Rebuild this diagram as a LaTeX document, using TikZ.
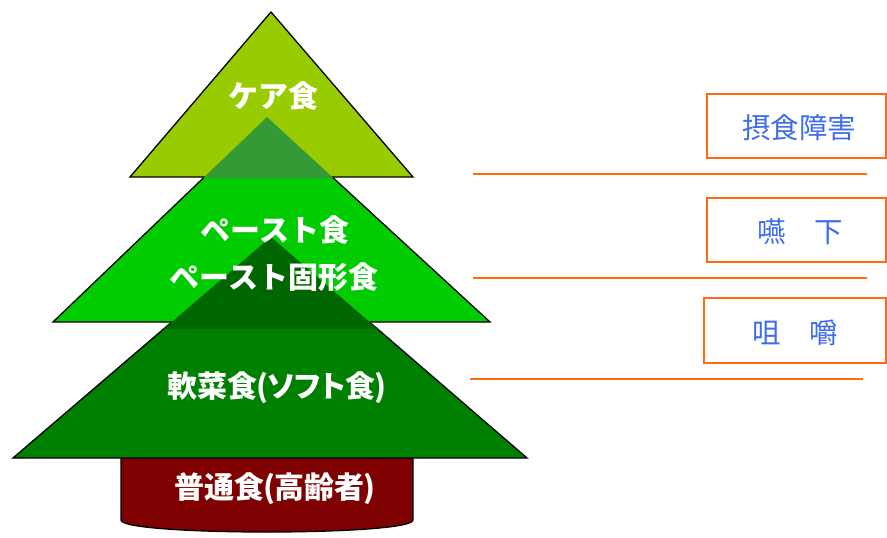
\documentclass[tikz,border=0pt]{standalone}
\usepackage{fontspec}
\newfontfamily\jp{Noto Sans CJK JP}
\newfontfamily\jpp{Noto Sans CJK JP}[RawFeature=+palt]
\definecolor{topg}{HTML}{99CC00}
\definecolor{ov1}{HTML}{359A35}
\definecolor{midg}{HTML}{00CC00}
\definecolor{ov2}{HTML}{006600}
\definecolor{botg}{HTML}{008000}
\definecolor{cyl}{HTML}{7F0000}
\definecolor{orng}{HTML}{FF6A13}
\definecolor{blu}{HTML}{3D6BF0}
\tikzset{
  outl/.style={draw=black, line width=1.3pt, line join=miter},
  wtext/.style={text=white, font=\jp\bfseries\fontsize{30}{32}\selectfont, inner sep=0pt},
  wtextp/.style={text=white, font=\jpp\bfseries\fontsize{30}{32}\selectfont, inner sep=0pt},
  box/.style={draw=orng, line width=2pt, inner sep=0pt},
  btext/.style={text=blu, font=\jp\fontsize{28.5}{30}\selectfont, inner sep=0pt},
  oline/.style={draw=orng, line width=2pt}
}
\begin{document}
\begin{tikzpicture}[x=1pt,y=-1pt]
\useasboundingbox (0,0) rectangle (887,538);
% coordinates
\coordinate (tA) at (271,12);   \coordinate (tL) at (130,177); \coordinate (tR) at (413,177);
\coordinate (mA) at (267,117);  \coordinate (mL) at (53,322);  \coordinate (mR) at (490,322);
\coordinate (bA) at (271,237);  \coordinate (bL) at (13,458);  \coordinate (bR) at (527,458);
% cylinder
\path[fill=cyl, outl] (121,450) -- (121,520) .. controls (121,536) and (413,536) .. (413,520) -- (413,450) -- cycle;
% bottom triangle
\path[fill=botg, outl] (bA) -- (bL) -- (bR) -- cycle;
% middle triangle
\path[fill=midg, outl] (mA) -- (mL) -- (mR) -- cycle;
% overlap 2
\begin{scope}
  \clip (0,0) rectangle (887,328);
  \fill[ov2] (bA) -- (bL) -- (bR) -- cycle;
\end{scope}
% top triangle
\path[fill=topg, outl] (tA) -- (tL) -- (tR) -- cycle;
% overlap 1
\begin{scope}
  \clip (0,0) rectangle (887,177.8);
  \fill[ov1] (mA) -- (mL) -- (mR) -- cycle;
\end{scope}
% texts
\node[wtext] (care) at (273,96) {ケア食};
\node[wtext] (paste) at (275,230) {ペースト食};
\node[wtext] (pastek) at (274,277) {ペースト固形食};
\node[wtextp] (soft) at (277,388) {軟菜食\kern-1pt(\kern-1pt ソフト食\kern-1pt)};
\node[wtextp] (normal) at (275,489) {普通食\kern-1pt(\kern-1pt 高齢者\kern-1pt)};
% right boxes
\node[box, minimum width=179pt, minimum height=64pt] (b1) at (796.5,126) {};
\node[box, minimum width=179pt, minimum height=64pt] (b2) at (796.5,230) {};
\node[box, minimum width=182pt, minimum height=65pt] (b3) at (795,330.5) {};
\node[btext] (t1) at (799,128) {摂食障害};
\node[btext] (t2) at (800,232) {嚥　下};
\node[btext] (t3) at (795,333) {咀　嚼};
% orange lines
\coordinate (l1a) at (473,174); \coordinate (l1b) at (867,174);
\coordinate (l2a) at (473,278); \coordinate (l2b) at (867,278);
\coordinate (l3a) at (470,379); \coordinate (l3b) at (863,379);
\draw[oline] (l1a) -- (l1b);
\draw[oline] (l2a) -- (l2b);
\draw[oline] (l3a) -- (l3b);
\end{tikzpicture}
\end{document}
